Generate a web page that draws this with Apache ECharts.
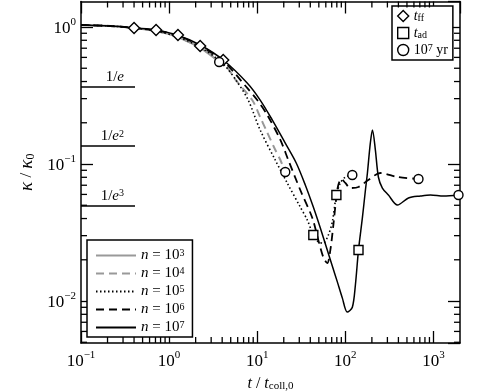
<!DOCTYPE html>
<html>
<head>
<meta charset="utf-8">
<script src="https://cdn.jsdelivr.net/npm/echarts@6/dist/echarts.min.js"></script>
<style>html,body{margin:0;padding:0;background:#fff}#main{width:480px;height:392px}</style>
</head>
<body>
<div id="main"></div>
<script>
// kappa/kappa0 against t/t_coll,0 for five densities
var n3 = [[0.1,1.034],[0.214,1.017],[0.40,0.983],[0.711,0.935],[1.26,0.845],[2.25,0.703],[3.70,0.555]];
var n4 = [[0.1,1.034],[0.214,1.017],[0.40,0.983],[0.711,0.935],[1.26,0.845],[2.25,0.703],[4.11,0.546],
          [5.93,0.397],[8.77,0.293],[10.8,0.220],[12.6,0.177],[16.0,0.127],[18.3,0.107],[20.8,0.0874]];
var n5 = [[0.1,1.034],[0.214,1.017],[0.40,0.983],[0.711,0.935],[1.26,0.845],[2.25,0.714],[4.11,0.537],
          [5.93,0.397],[7.90,0.293],[10.8,0.177],[16.0,0.107],[21.9,0.0727],[30.8,0.0485],[37.0,0.0390],
          [43.3,0.0303],[49.3,0.0270],[56.2,0.0265],[64.1,0.0303],[71.1,0.0377],[79.1,0.0594],
          [87.7,0.0727],[100,0.0804],[120,0.0832]];
var n6 = [[0.1,1.034],[0.214,1.017],[0.40,0.983],[0.711,0.945],[1.26,0.865],[2.25,0.727],[4.11,0.565],
          [7.69,0.359],[10.0,0.293],[13.0,0.228],[18.3,0.150],[22.5,0.107],[30.8,0.0646],[42.2,0.0404],
          [49.3,0.0279],[56.2,0.0209],[62.4,0.0189],[67.6,0.0236],[73.1,0.0359],[79.1,0.0574],
          [83.2,0.0703],[90.1,0.0778],[100,0.0727],[114,0.0668],[141,0.0680],[182,0.0764],
          [250,0.0860],[390,0.0804],[676,0.0778]];
var n7 = [[0.1,1.034],[0.277,1.008],[0.40,0.983],[0.711,0.951],[1.23,0.874],[2.25,0.739],[4.11,0.574],
          [7.69,0.390],[10.8,0.293],[14.8,0.210],[20.8,0.142],[27.7,0.1017],[35.1,0.0703],[43.3,0.0485],
          [52.0,0.0341],[60.8,0.0248],[71.1,0.0180],[81.1,0.0138],[92.5,0.0105],[105,0.0083],[120,0.0090],
          [130,0.0131],[141,0.0236],[156,0.0404],[169,0.0646],[178,0.086],[192,0.142],[203,0.177],
          [219,0.127],[237,0.0804],[263,0.0668],[308,0.0594],[390,0.0502],[520,0.0565],[711,0.0584],
          [925,0.0594],[1300,0.0584],[1923,0.0594]];

// markers
var tff = [[0.40,0.983],[0.711,0.951],[1.26,0.874],[2.25,0.727],[4.11,0.574]];
var tad = [[43.3,0.0303],[79.1,0.0594],[141,0.0236]];
var yr7 = [[3.70,0.555],[20.8,0.0874],[120,0.0832],[676,0.0778],[1923,0.0594]];

// e-folding levels
var eLevels = [0.3679, 0.1353, 0.0498];
var eLabels = ['1/{i|e}', '1/{i|e}{sup|2}', '1/{i|e}{sup|3}'];
var eEnd = 0.41;

var xMin = 0.1, xMax = 2000, yMin = 0.00494, yMax = 1.535;

var FONT = 'Liberation Serif';

function pow10Label(v) {
  var e = Math.round(Math.log10(v));
  if (Math.abs(Math.log10(v) - e) > 1e-6) return '';
  return '{b|10}{sup|' + String(e).replace('-', '\u2212') + '}';
}

// minor ticks 2..9 per decade
var xMinor = [], yMinor = [];
for (var e = -3; e <= 4; e++) {
  for (var m = 2; m <= 9; m++) {
    var v = m * Math.pow(10, e);
    if (v > xMin && v < xMax) xMinor.push([v, 1]);
    if (v > yMin && v < yMax) yMinor.push([1, v]);
  }
}

var chartDom = document.getElementById('main');
var myChart = echarts.init(chartDom);

var axisCommon = {
  type: 'log',
  logBase: 10,
  axisLine: {show: true, lineStyle: {color: '#000', width: 1.5}},
  axisTick: {show: true, inside: true, length: 12, lineStyle: {color: '#000', width: 1.3}},
  splitLine: {show: false},
  minorTick: {show: false}
};

var labelRich = {
  b: {fontFamily: FONT, fontSize: 17, color: '#000', lineHeight: 20, verticalAlign: 'bottom'},
  sup: {fontFamily: FONT, fontSize: 11, color: '#000', lineHeight: 11, verticalAlign: 'top'}
};

function tickRender(dir) {
  return function (params, api) {
    var cs = params.coordSys;
    var st = {stroke: '#000', lineWidth: 1.3};
    if (dir === 'x') {
      var px = api.coord([api.value(0), 1])[0];
      return {type: 'group', children: [
        {type: 'line', shape: {x1: px, y1: cs.y + cs.height, x2: px, y2: cs.y + cs.height - 6}, style: st},
        {type: 'line', shape: {x1: px, y1: cs.y, x2: px, y2: cs.y + 6}, style: st}
      ]};
    }
    var py = api.coord([1, api.value(1)])[1];
    return {type: 'group', children: [
      {type: 'line', shape: {x1: cs.x, y1: py, x2: cs.x + 6, y2: py}, style: st},
      {type: 'line', shape: {x1: cs.x + cs.width, y1: py, x2: cs.x + cs.width - 6, y2: py}, style: st}
    ]};
  };
}

var legendNames = {
  n3: '{i|n} = 10{sup|3}', n4: '{i|n} = 10{sup|4}', n5: '{i|n} = 10{sup|5}',
  n6: '{i|n} = 10{sup|6}', n7: '{i|n} = 10{sup|7}',
  tff: '{i|t}{sub|ff}', tad: '{i|t}{sub|ad}', yr7: '10{sup|7} yr'
};
function legendRich(size) {
  return {
    i: {fontFamily: FONT, fontStyle: 'italic', fontSize: size, color: '#000'},
    sup: {fontFamily: FONT, fontSize: 10, color: '#000', verticalAlign: 'top', lineHeight: 10},
    sub: {fontFamily: FONT, fontSize: 10, color: '#000', verticalAlign: 'bottom', lineHeight: 10}
  };
}

function curve(name, data, color, type, width) {
  return {
    name: name, type: 'line', data: data, symbol: 'none', showSymbol: false,
    smooth: 0.3, z: 3,
    lineStyle: {color: color, type: type, width: width},
    itemStyle: {color: color}
  };
}
function marks(name, data, symbol, size) {
  return {
    name: name, type: 'scatter', data: data, symbol: symbol, symbolSize: size, clip: false, z: 5,
    itemStyle: {color: '#fff', borderColor: '#000', borderWidth: 1.4, opacity: 1}
  };
}

var eMarkData = eLevels.map(function (lv, i) {
  return [{coord: [xMin, lv], label: {formatter: eLabels[i]}}, {coord: [eEnd, lv]}];
});

var option = {
  animation: false,
  backgroundColor: '#fff',
  grid: {left: 81, right: 20, top: 1.5, bottom: 49, outerBoundsMode: 'none', containLabel: false},
  xAxis: [
    Object.assign({}, axisCommon, {
      position: 'bottom', min: xMin, max: xMax,
      axisLabel: {margin: 7, formatter: pow10Label, rich: labelRich, showMinLabel: true, showMaxLabel: false},
      name: '{i|t} / {i|t}{sub|coll,0}', nameLocation: 'middle', nameGap: 33,
      nameTextStyle: {fontFamily: FONT, fontSize: 16, color: '#000', rich: {
        i: {fontFamily: FONT, fontStyle: 'italic', fontSize: 16, color: '#000'},
        sub: {fontFamily: FONT, fontSize: 11, color: '#000', verticalAlign: 'bottom', lineHeight: 10}
      }}
    }),
    Object.assign({}, axisCommon, {position: 'top', min: xMin, max: xMax, axisLabel: {show: false}})
  ],
  yAxis: [
    Object.assign({}, axisCommon, {
      position: 'left', min: yMin, max: yMax,
      axisLabel: {margin: 5, formatter: pow10Label, rich: labelRich, showMinLabel: false, showMaxLabel: false},
      name: '{i|\u03ba} / {i|\u03ba}{sub|0}', nameLocation: 'middle', nameGap: 44, nameRotate: 90,
      nameTextStyle: {fontFamily: FONT, fontSize: 17, color: '#000', rich: {
        i: {fontFamily: FONT, fontStyle: 'italic', fontSize: 19, color: '#000'},
        sub: {fontFamily: FONT, fontSize: 12, color: '#000', verticalAlign: 'bottom', lineHeight: 10}
      }}
    }),
    Object.assign({}, axisCommon, {position: 'right', min: yMin, max: yMax, axisLabel: {show: false}})
  ],
  legend: [
    {
      data: ['n3', 'n4', 'n5', 'n6', 'n7'], orient: 'vertical', left: 87, top: 240,
      itemWidth: 40, itemHeight: 12, itemGap: 3, padding: [8, 8, 2, 8],
      backgroundColor: '#fff', borderColor: '#000', borderWidth: 1.5, borderRadius: 0,
      selectedMode: false,
      itemStyle: {opacity: 0},
      formatter: function (n) { return legendNames[n]; },
      textStyle: {fontFamily: FONT, fontSize: 15, color: '#000', rich: legendRich(15)}
    },
    {
      data: ['tff', 'tad', 'yr7'], orient: 'vertical', left: 392, top: 6,
      itemWidth: 11, itemHeight: 11, itemGap: 3, padding: [3, 5, 3, 5],
      backgroundColor: '#fff', borderColor: '#000', borderWidth: 1.5, borderRadius: 0,
      selectedMode: false,
      itemStyle: {opacity: 1, borderWidth: 1.4},
      formatter: function (n) { return legendNames[n]; },
      textStyle: {fontFamily: FONT, fontSize: 14, color: '#000', rich: legendRich(14)}
    }
  ],
  series: [
    curve('n3', n3, '#999', 'solid', 2),
    curve('n4', n4, '#999', [8, 5], 2),
    curve('n5', n5, '#000', [1.5, 2.5], 1.6),
    curve('n6', n6, '#000', [8, 5], 1.8),
    curve('n7', n7, '#000', 'solid', 1.5),
    {
      type: 'line', data: [], silent: true,
      markLine: {
        symbol: 'none', silent: true, animation: false,
        lineStyle: {color: '#000', type: 'solid', width: 1.5},
        label: {position: 'insideEndTop', distance: 2, padding: [0, 9, 0, 0],
          fontFamily: FONT, fontSize: 15, color: '#000',
          rich: {
            i: {fontFamily: FONT, fontStyle: 'italic', fontSize: 15, color: '#000'},
            sup: {fontFamily: FONT, fontSize: 10, color: '#000', verticalAlign: 'top', lineHeight: 10}
          }},
        data: eMarkData
      }
    },
    marks('tff', tff, 'diamond', 11),
    marks('tad', tad, 'rect', 9),
    marks('yr7', yr7, 'circle', 9),
    {type: 'custom', data: xMinor, renderItem: tickRender('x'), clip: false, silent: true, z: 4},
    {type: 'custom', data: yMinor, renderItem: tickRender('y'), clip: false, silent: true, z: 4}
  ]
};

option && myChart.setOption(option);
</script>
</body>
</html>
